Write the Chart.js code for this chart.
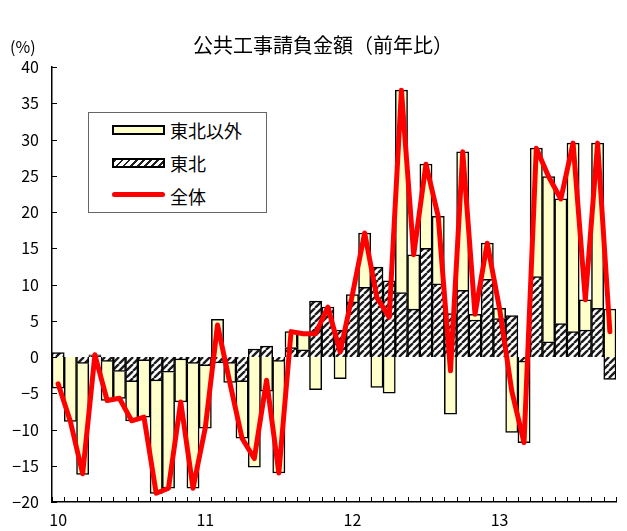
<!DOCTYPE html>
<html lang="ja">
<head>
<meta charset="utf-8">
<title>公共工事請負金額（前年比）</title>
<script src="https://cdn.jsdelivr.net/npm/chart.js@4.4.0/dist/chart.umd.min.js"></script>
<style>
  html, body { margin: 0; padding: 0; background: #fff; }
  #wrap { position: relative; width: 627px; height: 531px; font-family: "Noto Sans CJK JP", sans-serif; color: #000; }
  #box { position: absolute; left: 0; top: 0; width: 627px; height: 531px; }
  .title { position: absolute; left: 0; width: 646px; top: 32px; text-align: center; font-size: 20px; line-height: 26px; }
  .unit { position: absolute; left: 10px; top: 36px; font-size: 16px; line-height: 20px; }
  .legend { position: absolute; left: 88px; top: 112px; width: 179px; height: 101px; border: 1px solid #666; box-sizing: border-box; background: #fff; }
  .sw { position: absolute; left: 23px; width: 53px; box-sizing: border-box; }
  .sw.other { top: 12px; height: 10px; border: 2px solid #000; background: #ffffcc; }
  .sw.tohoku { top: 45px; height: 10px; border: 2px solid #000;
    background: repeating-linear-gradient(135deg, #222 0 2px, #fff 2px 5px); }
  .sw.total { top: 79px; height: 5px; border-radius: 3px; background: #ff0000; }
  .lt { position: absolute; left: 81px; font-size: 18px; line-height: 22px; }
</style>
</head>
<body>
<div id="wrap">
  <div id="box"><canvas id="myChart"></canvas></div>
  <div class="title">公共工事請負金額（前年比）</div>
  <div class="unit">(%)</div>
  <div class="legend">
    <div class="sw other"></div><div class="lt" style="top:6px">東北以外</div>
    <div class="sw tohoku"></div><div class="lt" style="top:39px">東北</div>
    <div class="sw total"></div><div class="lt" style="top:72px">全体</div>
  </div>
</div>
<script>
// 月（2010年1月〜2013年10月）
const categories = [
  '2010-01','2010-02','2010-03','2010-04','2010-05','2010-06','2010-07','2010-08','2010-09','2010-10','2010-11','2010-12',
  '2011-01','2011-02','2011-03','2011-04','2011-05','2011-06','2011-07','2011-08','2011-09','2011-10','2011-11','2011-12',
  '2012-01','2012-02','2012-03','2012-04','2012-05','2012-06','2012-07','2012-08','2012-09','2012-10','2012-11','2012-12',
  '2013-01','2013-02','2013-03','2013-04','2013-05','2013-06','2013-07','2013-08','2013-09','2013-10'
];

// 東北の寄与
const tohoku = [
  0.6, 0.0, -0.9, 0.2, -0.6, -2.0, -3.4, -0.5, -3.3, -2.1, -0.4, -0.9,
  -1.2, -0.8, -0.9, -3.4, 1.1, 1.5, -0.6, 1.3, 1.0, 7.7, 6.9, 3.7,
  7.6, 9.6, 12.4, 10.5, 8.9, 6.6, 15.0, 10.1, 6.0, 9.2, 5.1, 10.7,
  5.3, 5.7, -0.7, 11.1, 2.1, 4.6, 3.5, 3.7, 6.7, -3.1
];

// 東北以外の寄与
const other = [
  -4.3, -8.9, -15.3, 0.1, -5.4, -3.7, -5.4, -7.8, -15.5, -16.0, -5.8, -17.2,
  -8.6, 5.2, -2.6, -7.8, -15.2, -4.7, -15.4, 2.2, 2.2, -4.5, 0.0, -3.0,
  1.0, 7.5, -4.2, -5.0, 27.9, 7.5, 11.6, 9.3, -7.9, 19.1, 0.8, 5.0,
  1.4, -10.4, -11.1, 17.7, 22.8, 17.2, 26.0, 4.2, 22.8, 6.6
];

// 全体（前年比）
const total = [
  -3.7, -8.9, -16.1, 0.3, -6.0, -5.7, -8.8, -8.3, -18.8, -18.1, -6.2, -18.1,
  -9.8, 4.4, -3.5, -11.2, -14.0, -3.2, -16.0, 3.5, 3.2, 3.2, 6.9, 0.7,
  8.6, 17.1, 8.2, 5.5, 36.8, 14.1, 26.6, 19.4, -1.9, 28.3, 5.9, 15.7,
  6.7, -4.7, -11.8, 28.8, 24.9, 21.8, 29.5, 7.9, 29.5, 3.5
];

// 斜線パターン
function makeHatch() {
  const s = 7;
  const c = document.createElement('canvas');
  c.width = s; c.height = s;
  const g = c.getContext('2d');
  g.fillStyle = '#fff';
  g.fillRect(0, 0, s, s);
  g.strokeStyle = '#1e1e1e';
  g.lineWidth = 2.4;
  g.beginPath();
  [-s, 0, s].forEach(k => { g.moveTo(k, s); g.lineTo(k + s, 0); });
  g.stroke();
  return g.createPattern(c, 'repeat');
}

// 内向きの目盛り
const innerTicks = {
  id: 'innerTicks',
  afterDraw(chart) {
    const { ctx, chartArea, scales } = chart;
    ctx.save();
    ctx.strokeStyle = '#000';
    ctx.lineWidth = 1;
    ctx.beginPath();
    scales.y.ticks.forEach(t => {
      const y = Math.round(scales.y.getPixelForValue(t.value)) + 0.5;
      ctx.moveTo(chartArea.left, y);
      ctx.lineTo(chartArea.left + 5, y);
    });
    const half = (scales.x.getPixelForValue(1) - scales.x.getPixelForValue(0)) / 2;
    for (let i = 0; i <= categories.length; i++) {
      const x = Math.round(scales.x.getPixelForValue(i) - half) + 0.5;
      ctx.moveTo(x, chartArea.bottom);
      ctx.lineTo(x, chartArea.bottom - 5);
    }
    ctx.stroke();
    ctx.restore();
  }
};

const ctx = document.getElementById('myChart').getContext('2d');

// 積み上げ順は order の小さい方が下（ゼロ側）
const myChart = new Chart(ctx, {
  type: 'bar',
  data: {
    labels: categories,
    datasets: [
      {
        label: '東北',
        data: tohoku,
        backgroundColor: makeHatch(),
        borderColor: '#000',
        borderWidth: 1.5,
        barPercentage: 1,
        categoryPercentage: 1,
        order: 1
      },
      {
        label: '東北以外',
        data: other,
        backgroundColor: '#ffffcc',
        borderColor: '#000',
        borderWidth: 1.5,
        barPercentage: 1,
        categoryPercentage: 1,
        order: 2
      },
      {
        type: 'line',
        label: '全体',
        data: total,
        borderColor: '#ff0000',
        borderWidth: 5,
        borderCapStyle: 'round',
        borderJoinStyle: 'round',
        pointRadius: 0,
        tension: 0,
        fill: false,
        order: 0
      }
    ]
  },
  plugins: [innerTicks],
  options: {
    responsive: true,
    maintainAspectRatio: false,
    animation: false,
    layout: { padding: { top: 67, right: 11, left: 0, bottom: 0 } },
    plugins: {
      legend: { display: false },
      tooltip: { enabled: false },
      title: { display: false }
    },
    scales: {
      x: {
        stacked: true,
        offset: true,
        grid: { display: false, drawTicks: false },
        border: { display: true, color: '#000', width: 1.5 },
        ticks: {
          autoSkip: false,
          maxRotation: 0,
          padding: 8,
          color: '#000',
          font: { family: '"Noto Sans CJK JP", sans-serif', size: 16 },
          callback: (v, i) => categories[i].endsWith('-01') ? categories[i].slice(2, 4) : ''
        },
        afterFit: s => { s.height = 29; }
      },
      y: {
        stacked: true,
        min: -20,
        max: 40,
        grid: { display: false, drawTicks: false },
        border: { display: true, color: '#000', width: 1.5 },
        ticks: {
          stepSize: 5,
          padding: 13,
          color: '#000',
          font: { family: '"Noto Sans CJK JP", sans-serif', size: 16 },
          callback: v => (v < 0 ? '\u2212' + Math.abs(v) : String(v))
        },
        afterFit: s => { s.height = s.height; s.width = 52; }
      }
    }
  }
});
</script>
</body>
</html>
